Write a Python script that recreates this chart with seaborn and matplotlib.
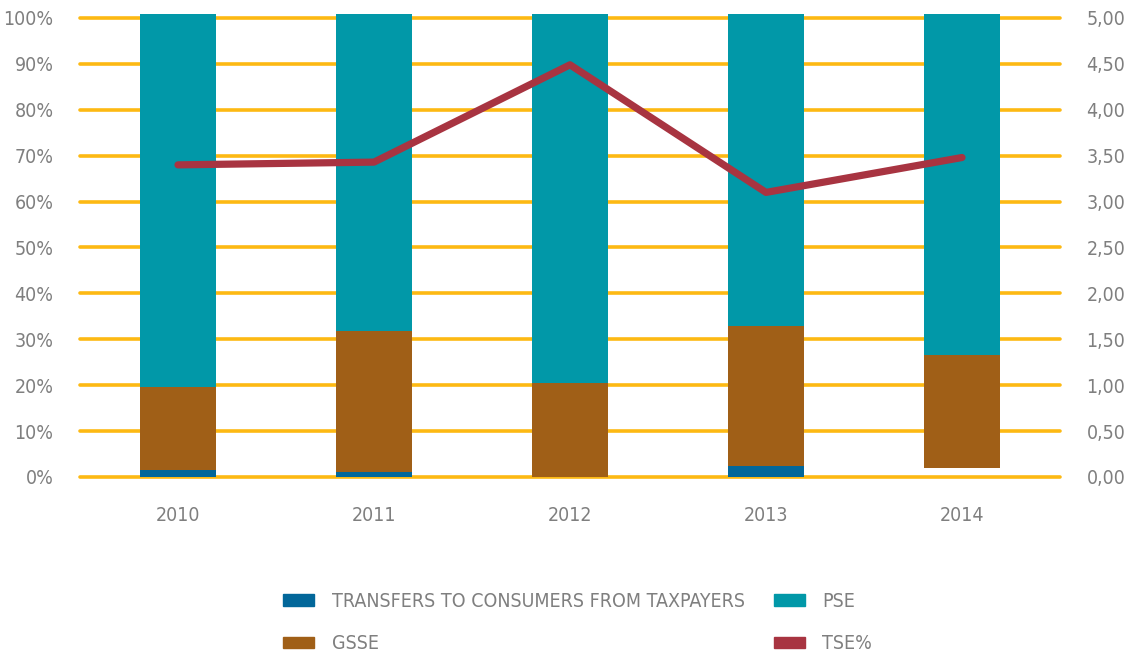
import numpy as np
import pandas as pd
import matplotlib
matplotlib.use("Agg")
import matplotlib.pyplot as plt
from matplotlib.patches import Patch
import seaborn as sns

years = ["2010", "2011", "2012", "2013", "2014"]
transfers = [1.5, 1.0, 0.0, 2.5, 1.9]      # % of TSE
gsse = [18.1, 30.7, 20.4, 30.4, 24.6]       # % of TSE
pse = [81.3, 69.2, 80.5, 68.0, 74.4]        # % of TSE
tse_pct = [3.40, 3.43, 4.49, 3.10, 3.48]    # TSE as % of GDP

left_ticks = list(range(0, 101, 10))
right_ticks = [0, 0.5, 1, 1.5, 2, 2.5, 3, 3.5, 4, 4.5, 5]

C_TRANSFER = "#02679A"
C_GSSE = "#A05F17"
C_PSE = "#0198A8"
C_TSE = "#A83441"
C_GRID = "#FDB913"
C_TEXT = "#7F7F7F"

sns.set_theme(style="white")
plt.rcParams["font.family"] = ["DejaVu Sans"]
plt.rcParams["font.stretch"] = "condensed"

df = pd.DataFrame({"year": years, "transfers": transfers, "gsse": gsse,
                   "pse": pse, "tse": tse_pct})
df["gsse_bottom"] = df["transfers"]
df["pse_bottom"] = df["transfers"] + df["gsse"]

fig = plt.figure(figsize=(11.3, 6.6), dpi=100)
ax = fig.add_axes([80 / 1130, 1 - 477 / 660, 980 / 1130, 468.2 / 660])
ymax = 102.0

# transfers segment is not shown for 2014 (offset only)
transfer_palette = {y: (C_TRANSFER if y != "2014" else (1, 1, 1, 0)) for y in years}
sns.barplot(data=df, x="year", y="transfers", hue="year", palette=transfer_palette,
            legend=False, width=0.39, ax=ax, zorder=3, linewidth=0, saturation=1)
sns.barplot(data=df, x="year", y="gsse", bottom=df["gsse_bottom"].values, color=C_GSSE,
            width=0.39, ax=ax, zorder=3, linewidth=0, saturation=1)
sns.barplot(data=df, x="year", y="pse", bottom=df["pse_bottom"].values, color=C_PSE,
            width=0.39, ax=ax, zorder=3, linewidth=0, saturation=1)

ax.set_xlim(-0.5, len(years) - 0.5)
ax.set_ylim(0, ymax)
ax.set_yticks(left_ticks)
ax.set_yticklabels([f"{t}%" for t in left_ticks])
ax.yaxis.grid(True, color=C_GRID, linewidth=2.6, zorder=0)
ax.set_axisbelow(True)
for gl in ax.get_ygridlines():
    gl.set_clip_on(False)
ax.set_xlabel("")
ax.set_ylabel("")
for s in ax.spines.values():
    s.set_visible(False)
ax.tick_params(axis="y", length=0, pad=19, labelsize=14, labelcolor=C_TEXT)
ax.tick_params(axis="x", length=0, pad=21, labelsize=14, labelcolor=C_TEXT)

ax2 = ax.twinx()
sns.lineplot(x=np.arange(len(years)), y=tse_pct, color=C_TSE, linewidth=5.2,
             ax=ax2, zorder=5)
ax2.set_ylim(0, ymax / 20)
ax2.set_yticks(right_ticks)
ax2.set_yticklabels([f"{t:.2f}".replace(".", ",") for t in right_ticks])
ax2.tick_params(axis="y", length=0, pad=19, labelsize=14, labelcolor=C_TEXT)
ax2.grid(False)
ax2.set_ylabel("")
for s in ax2.spines.values():
    s.set_visible(False)

handles = [Patch(color=C_TRANSFER), Patch(color=C_GSSE),
           Patch(color=C_PSE), Patch(color=C_TSE)]
labels = ["TRANSFERS TO CONSUMERS FROM TAXPAYERS", "GSSE", "PSE", "TSE%"]
fig.legend(handles, labels, ncol=2, loc="upper left",
           bbox_to_anchor=(283 / 1130, 1 - 592 / 660), frameon=False,
           fontsize=14, labelcolor=C_TEXT, handlelength=1.6, handleheight=0.55,
           handletextpad=0.9, columnspacing=1.5, labelspacing=1.2, borderpad=0,
           borderaxespad=0)

fig.savefig("out.png", dpi=100)
